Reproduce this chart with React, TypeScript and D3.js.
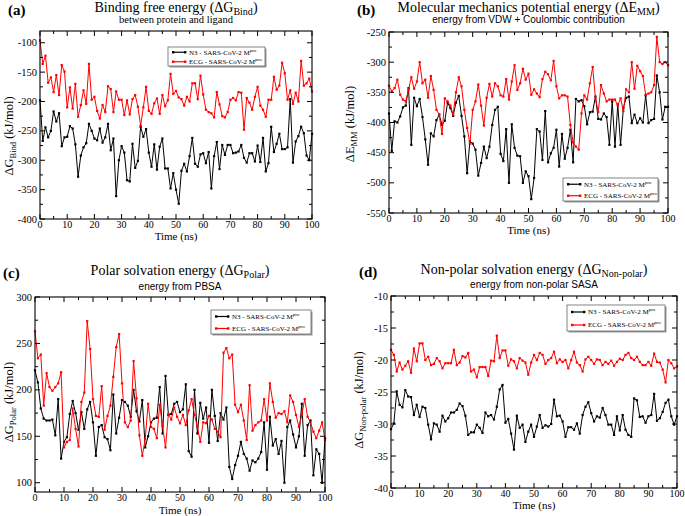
import React from "react";
import * as d3 from "d3";

// simulation time (ns), one frame per ns
const timeNs = d3.range(0, 101);

// (a) binding free energy, kJ/mol
const bindN3 = [
  -198, -267, -244, -261, -250, -217, -234, -220, -276, -261,
  -260, -242, -246, -273, -328, -292, -278, -271, -238, -250,
  -263, -266, -246, -270, -261, -238, -283, -263, -361, -300,
  -276, -287, -334, -336, -272, -313, -301, -243, -260, -247,
  -287, -311, -273, -316, -277, -263, -314, -314, -348, -322,
  -350, -374, -318, -306, -319, -293, -262, -306, -311, -290,
  -288, -305, -286, -348, -293, -269, -315, -274, -291, -274,
  -274, -288, -287, -285, -274, -296, -304, -288, -288, -302,
  -275, -303, -262, -319, -305, -243, -286, -272, -255, -281,
  -281, -278, -196, -304, -268, -259, -243, -254, -292, -300,
  -255,
];
const bindECG = [
  -96, -136, -122, -168, -159, -184, -155, -189, -138, -149,
  -210, -176, -212, -170, -226, -206, -181, -204, -136, -197,
  -192, -216, -229, -206, -218, -174, -179, -218, -183, -197,
  -197, -223, -198, -222, -196, -189, -209, -241, -210, -175,
  -216, -221, -203, -195, -221, -189, -208, -198, -153, -187,
  -182, -193, -196, -207, -192, -200, -169, -169, -196, -156,
  -188, -214, -218, -220, -227, -184, -205, -225, -227, -218,
  -197, -194, -198, -184, -185, -248, -194, -202, -214, -192,
  -175, -207, -214, -226, -197, -197, -158, -180, -173, -134,
  -152, -197, -181, -204, -185, -200, -131, -173, -169, -161,
  -183,
];

// (b) molecular mechanics potential energy, kJ/mol
const mmN3 = [
  -385, -447, -398, -400, -390, -375, -372, -343, -437, -359,
  -373, -361, -391, -428, -470, -418, -423, -396, -387, -404,
  -397, -367, -376, -389, -367, -356, -389, -423, -484, -431,
  -435, -445, -488, -467, -440, -459, -440, -404, -379, -374,
  -452, -464, -411, -500, -403, -442, -455, -456, -500, -481,
  -489, -527, -492, -411, -415, -462, -381, -466, -451, -442,
  -412, -473, -419, -460, -442, -412, -466, -361, -365, -363,
  -373, -403, -383, -382, -357, -394, -395, -385, -391, -437,
  -365, -440, -370, -437, -376, -359, -357, -401, -387, -401,
  -393, -400, -355, -401, -396, -394, -322, -350, -395, -374,
  -374,
];
const mmECG = [
  -339, -348, -343, -329, -354, -362, -365, -346, -325, -344,
  -332, -300, -335, -329, -359, -323, -346, -379, -387, -419,
  -360, -365, -372, -387, -350, -325, -340, -379, -409, -435,
  -379, -365, -337, -372, -405, -359, -336, -357, -335, -340,
  -355, -357, -328, -362, -332, -305, -346, -335, -311, -329,
  -319, -354, -345, -352, -358, -328, -316, -320, -330, -298,
  -340, -360, -355, -355, -357, -404, -433, -440, -445, -385,
  -355, -362, -335, -308, -360, -383, -338, -352, -365, -362,
  -362, -362, -372, -360, -381, -345, -350, -300, -344, -306,
  -315, -323, -354, -352, -350, -338, -258, -300, -303, -300,
  -305,
];

// (c) polar solvation energy, kJ/mol
const polarN3 = [
  221, 208, 180, 169, 167, 167, 168, 151, 190, 126,
  144, 149, 174, 188, 175, 157, 176, 158, 179, 187,
  165, 129, 160, 162, 149, 147, 135, 195, 153, 170,
  189, 187, 183, 171, 200, 177, 166, 189, 138, 150,
  165, 169, 170, 203, 153, 215, 173, 174, 185, 187,
  176, 179, 206, 134, 128, 200, 153, 186, 169, 181,
  143, 200, 172, 145, 175, 168, 181, 117, 104, 119,
  129, 144, 131, 126, 113, 124, 122, 126, 133, 165,
  114, 171, 140, 147, 131, 145, 100, 160, 167, 152,
  138, 150, 185, 129, 162, 167, 108, 136, 131, 100,
  148,
];
const polarECG = [
  263, 234, 238, 183, 218, 203, 199, 203, 207, 219,
  138, 144, 146, 180, 158, 139, 187, 197, 274, 244,
  190, 172, 171, 204, 157, 172, 183, 214, 246, 260,
  207, 165, 160, 167, 231, 191, 151, 129, 147, 185,
  160, 158, 148, 184, 161, 138, 174, 168, 181, 171,
  164, 173, 162, 178, 190, 173, 160, 144, 165, 164,
  172, 168, 158, 155, 149, 240, 245, 234, 238, 184,
  176, 184, 167, 146, 205, 156, 162, 165, 167, 190,
  167, 207, 187, 170, 175, 174, 177, 165, 194, 187,
  173, 160, 173, 190, 171, 165, 155, 148, 156, 165,
  146,
];

// (d) non-polar solvation energy, kJ/mol
const nonpolarN3 = [
  -30.8, -29.9, -24.9, -27.0, -27.4, -24.7, -25.7, -25.8, -28.6, -27.0,
  -28.9, -27.3, -27.5, -30.1, -32.4, -29.9, -30.1, -31.2, -28.7, -29.6,
  -29.1, -28.2, -28.2, -27.8, -26.8, -27.2, -28.7, -31.7, -31.3, -31.3,
  -30.1, -30.6, -31.4, -28.2, -28.8, -28.6, -29.3, -27.3, -24.6, -23.9,
  -29.8, -29.2, -31.5, -34.0, -28.7, -30.6, -30.1, -32.8, -31.2, -30.1,
  -32.0, -30.4, -28.6, -30.6, -30.2, -30.4, -30.0, -26.2, -28.8, -28.7,
  -29.6, -32.0, -30.5, -30.5, -30.9, -29.9, -31.5, -28.6, -27.3, -26.6,
  -28.3, -29.6, -28.8, -29.0, -27.5, -28.6, -30.1, -30.1, -31.7, -28.8,
  -31.0, -28.6, -30.9, -31.7, -32.0, -26.0, -26.3, -28.9, -28.8, -29.8,
  -28.8, -28.6, -25.3, -29.5, -29.1, -28.1, -26.7, -26.2, -28.8, -30.1,
  -28.8,
];
const nonpolarECG = [
  -18.4, -19.2, -21.8, -20.4, -21.5, -20.9, -20.2, -22.0, -18.2, -20.2,
  -17.4, -17.4, -20.0, -19.5, -20.8, -20.6, -19.7, -20.2, -21.3, -20.5,
  -20.5, -20.5, -18.4, -20.8, -20.4, -19.4, -19.6, -18.9, -21.8, -21.5,
  -22.7, -21.1, -21.1, -21.1, -22.5, -20.1, -20.2, -16.2, -19.7, -18.5,
  -18.5, -20.9, -19.9, -20.2, -21.3, -19.7, -20.1, -20.4, -22.3, -20.4,
  -19.2, -20.0, -18.9, -19.2, -20.6, -20.0, -19.7, -18.7, -20.5, -19.9,
  -20.3, -20.0, -21.3, -20.0, -18.7, -20.4, -20.8, -21.8, -19.9, -19.5,
  -20.0, -20.6, -19.9, -20.0, -20.8, -20.3, -20.6, -20.1, -20.9, -20.3,
  -19.8, -20.0, -19.2, -18.9, -19.7, -20.0, -19.5, -20.3, -20.8, -20.8,
  -20.3, -20.9, -19.0, -20.3, -20.4, -21.5, -23.5, -20.0, -20.5, -21.3,
  -21.0,
];

const xTicks = [0, 10, 20, 30, 40, 50, 60, 70, 80, 90, 100];
const bindTicks = [-400, -350, -300, -250, -200, -150, -100];
const mmTicks = [-550, -500, -450, -400, -350, -300, -250];
const polarTicks = [100, 150, 200, 250, 300];
const nonpolarTicks = [-40, -35, -30, -25, -20, -15, -10];

const seriesNames = ["N3 - SARS-CoV-2 M", "ECG - SARS-CoV-2 M"];
const seriesColors = ["#000000", "#ff0000"];

const serif = "Liberation Serif, DejaVu Serif, Times New Roman, serif";
const sans = "Liberation Sans, Arial, sans-serif";

const panels = [
  {
    letter: "(a)", n3: bindN3, ecg: bindECG, yDomain: [-400, -80], yTicks: bindTicks, minor: 25,
    left: 40, right: 312, top: 31, bottom: 219,
    title: ["Binding free energy (ΔG", "Bind", ")"], subtitle: "between protein and ligand", subFont: serif,
    titleY: 12, subY: 23, ylab: ["ΔG", "Bind"], ylabX: 13, ylabY: 136, tickY: 228, xlabY: 240,
    legend: { x: 168, y: 47, w: 97, h: 19 },
  },
  {
    letter: "(b)", n3: mmN3, ecg: mmECG, yDomain: [-550, -250], yTicks: mmTicks, minor: 25,
    left: 389, right: 668, top: 32, bottom: 213,
    title: ["Molecular mechanics potential energy (ΔE", "MM", ")"], subtitle: "energy from VDW + Coulombic contribution", subFont: sans,
    titleY: 12, subY: 23, ylab: ["ΔE", "MM"], ylabX: 354, ylabY: 124, tickY: 222, xlabY: 234,
    legend: { x: 563, y: 178, w: 95, h: 23 },
  },
  {
    letter: "(c)", n3: polarN3, ecg: polarECG, yDomain: [90, 300], yTicks: polarTicks, minor: 25,
    left: 35, right: 325, top: 297, bottom: 492,
    title: ["Polar solvation energy (ΔG", "Polar", ")"], subtitle: "energy from PBSA", subFont: sans,
    titleY: 275, subY: 290, ylab: ["ΔG", "Polar"], ylabX: 13, ylabY: 402, tickY: 501, xlabY: 514,
    legend: { x: 211, y: 310, w: 100, h: 24 },
  },
  {
    letter: "(d)", n3: nonpolarN3, ecg: nonpolarECG, yDomain: [-40, -10], yTicks: nonpolarTicks, minor: 2.5,
    left: 391, right: 677, top: 296, bottom: 488,
    title: ["Non-polar solvation energy (ΔG", "Non-polar", ")"], subtitle: "energy from non-polar SASA", subFont: sans,
    titleY: 274, subY: 288, ylab: ["ΔG", "Non-polar"], ylabX: 363, ylabY: 400, tickY: 497, xlabY: 509,
    legend: { x: 567, y: 305, w: 98, h: 26 },
  },
];

function Legend({ x, y, w, h }) {
  const rowGap = h / 2;
  return (
    <g>
      <rect x={x + 1.5} y={y + 1.5} width={w} height={h} fill="#999" />
      <rect x={x} y={y} width={w} height={h} fill="#fff" stroke="#666" strokeWidth={0.8} />
      {seriesNames.map((name, i) => {
        const cy = y + rowGap * (i + 0.5) + 0.5;
        const color = seriesColors[i];
        return (
          <g key={name}>
            <line x1={x + 5} x2={x + 17} y1={cy} y2={cy} stroke={color} strokeWidth={1.2} />
            <rect x={x + 4} y={cy - 1.2} width={2.4} height={2.4} fill={color} />
            <rect x={x + 16} y={cy - 1.2} width={2.4} height={2.4} fill={color} />
            <text x={x + 21} y={cy + 2.4} fontFamily={serif} fontSize={7} fill="#000">
              {name}
              <tspan dy={-3} fontSize={5}>pro</tspan>
            </text>
          </g>
        );
      })}
    </g>
  );
}

function Panel(p) {
  const x = d3.scaleLinear().domain([0, 100]).range([p.left, p.right]);
  const y = d3.scaleLinear().domain(p.yDomain).range([p.bottom, p.top]);
  const line = d3.line<number>().x((_, i) => x(timeNs[i])).y((d) => y(d));

  const xMinor = d3.range(5, 100, 10);
  const yMinor = d3
    .range(p.yTicks[0], p.yDomain[1] + 1e-6, p.minor)
    .filter((v) => !p.yTicks.some((t) => Math.abs(t - v) < 1e-6) && v > p.yDomain[0]);

  const major = 5;
  const minorLen = 3;
  const cx = (p.left + p.right) / 2;

  return (
    <g>
      {/* titles */}
      <text x={cx} y={p.titleY} textAnchor="middle" fontFamily={serif} fontSize={14}>
        {p.title[0]}
        <tspan dy={3} fontSize={10}>{p.title[1]}</tspan>
        <tspan dy={-3}>{p.title[2]}</tspan>
      </text>
      <text x={cx} y={p.subY} textAnchor="middle" fontFamily={p.subFont} fontSize={p.subFont === serif ? 10.5 : 10}>
        {p.subtitle}
      </text>
      <text x={p.left - 32} y={p.titleY + 3} fontFamily={serif} fontSize={15} fontWeight="bold">
        {p.letter}
      </text>

      {/* series */}
      {[p.n3, p.ecg].map((vals, i) => (
        <g key={i}>
          <path d={line(vals) || ""} fill="none" stroke={seriesColors[i]} strokeWidth={1} />
          {vals.map((v, j) => (
            <rect key={j} x={x(timeNs[j]) - 1.1} y={y(v) - 1.1} width={2.2} height={2.2} fill={seriesColors[i]} />
          ))}
        </g>
      ))}

      {/* frame + ticks */}
      <rect x={p.left} y={p.top} width={p.right - p.left} height={p.bottom - p.top} fill="none" stroke="#000" strokeWidth={1.1} />
      {xTicks.map((t) => (
        <g key={"xm" + t}>
          <line x1={x(t)} x2={x(t)} y1={p.bottom} y2={p.bottom - major} stroke="#000" />
          <line x1={x(t)} x2={x(t)} y1={p.top} y2={p.top + major} stroke="#000" />
          <text x={x(t)} y={p.tickY} textAnchor="middle" fontFamily={serif} fontSize={10}>{t}</text>
        </g>
      ))}
      {xMinor.map((t) => (
        <g key={"xn" + t}>
          <line x1={x(t)} x2={x(t)} y1={p.bottom} y2={p.bottom - minorLen} stroke="#000" />
          <line x1={x(t)} x2={x(t)} y1={p.top} y2={p.top + minorLen} stroke="#000" />
        </g>
      ))}
      {p.yTicks.map((t) => (
        <g key={"ym" + t}>
          <line x1={p.left} x2={p.left + major} y1={y(t)} y2={y(t)} stroke="#000" />
          <line x1={p.right} x2={p.right - major} y1={y(t)} y2={y(t)} stroke="#000" />
          <text x={p.left - 3} y={y(t) + 3.5} textAnchor="end" fontFamily={serif} fontSize={10.5}>{t}</text>
        </g>
      ))}
      {yMinor.map((t) => (
        <g key={"yn" + t}>
          <line x1={p.left} x2={p.left + minorLen} y1={y(t)} y2={y(t)} stroke="#000" />
          <line x1={p.right} x2={p.right - minorLen} y1={y(t)} y2={y(t)} stroke="#000" />
        </g>
      ))}

      {/* axis labels */}
      <text x={cx} y={p.xlabY} textAnchor="middle" fontFamily={serif} fontSize={11}>Time (ns)</text>
      <text transform={`translate(${p.ylabX},${p.ylabY}) rotate(-90)`} textAnchor="middle" fontFamily={serif} fontSize={12.5}>
        {p.ylab[0]}
        <tspan dy={3} fontSize={8.5}>{p.ylab[1]}</tspan>
        <tspan dy={-3}> (kJ/mol)</tspan>
      </text>

      <Legend {...p.legend} />
    </g>
  );
}

export default function App() {
  return (
    <svg
      width={685}
      height={516}
      style={{ position: "absolute", left: 0, top: 0, background: "#fff" }}
    >
      <rect width={685} height={516} fill="#fff" />
      {panels.map((p) => (
        <Panel key={p.letter} {...p} />
      ))}
    </svg>
  );
}
